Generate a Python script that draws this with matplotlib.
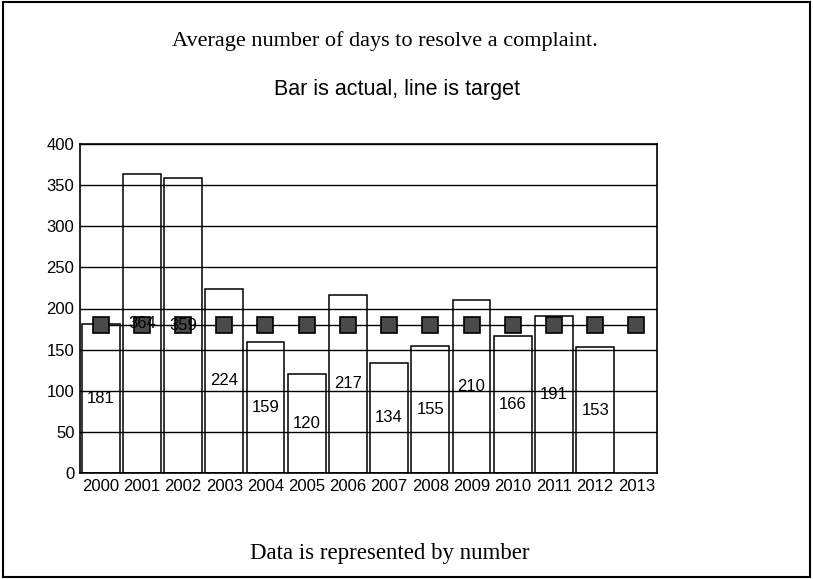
import numpy as np
import matplotlib
matplotlib.use("Agg")
import matplotlib.pyplot as plt
from matplotlib.patches import Rectangle

years = ["2000", "2001", "2002", "2003", "2004", "2005", "2006",
         "2007", "2008", "2009", "2010", "2011", "2012", "2013"]
actual = [181, 364, 359, 224, 159, 120, 217, 134, 155, 210, 166, 191, 153]
target = [180] * 14

title = "Average number of days to resolve a complaint."
subtitle = "Bar is actual, line is target"
footer = "Data is represented by number"

fig = plt.figure(figsize=(8.13, 5.79), dpi=100)
ax = fig.add_axes([80 / 813, 1 - 473 / 579, 577 / 813, 329 / 579])

x = np.arange(len(years))
ax.bar(x[:len(actual)], actual, width=0.92, facecolor="none",
       edgecolor="black", linewidth=1.1, zorder=3)

# target line with square markers
ax.plot(x, target, color="black", linewidth=1.0, zorder=4,
        marker="s", markersize=11, markerfacecolor="#4a4a4a",
        markeredgecolor="black", markeredgewidth=1.2)

for xi, v in zip(x, actual):
    ax.text(xi, v / 2, str(v), ha="center", va="center",
            fontsize=12, family="Liberation Sans", zorder=5)

ax.set_xlim(-0.5, len(years) - 0.5)
ax.set_ylim(0, 400)
ax.set_yticks(range(0, 401, 50))
ax.set_xticks(x)
ax.set_xticklabels(years)
ax.yaxis.grid(True, color="black", linewidth=1.0)
ax.set_axisbelow(False)
for lab in ax.get_xticklabels() + ax.get_yticklabels():
    lab.set_family("Liberation Sans")
    lab.set_fontsize(12)
ax.tick_params(axis="both", length=0, pad=4)
for s in ax.spines.values():
    s.set_color("black")
    s.set_linewidth(1.2)

fig.text(0.474, 1 - 41 / 579, title, ha="center", va="center",
         family="Liberation Serif", fontsize=16)
fig.text(0.488, 1 - 89 / 579, subtitle, ha="center", va="center",
         family="Liberation Sans", fontsize=15.5)
fig.text(0.48, 1 - 553 / 579, footer, ha="center", va="center",
         family="Liberation Serif", fontsize=16.5)

# outer frame of the whole picture
fig.patches.append(Rectangle((0.004, 0.004), 0.992, 0.992,
                             transform=fig.transFigure, fill=False,
                             edgecolor="black", linewidth=1.5))

fig.savefig("out.png", dpi=100)
